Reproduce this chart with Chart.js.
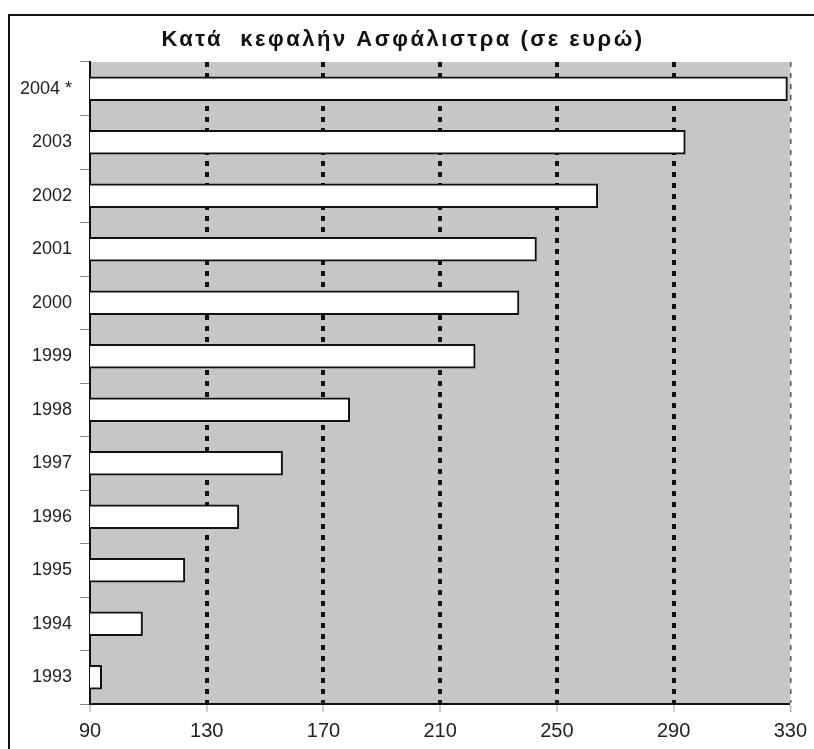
<!DOCTYPE html>
<html>
<head>
<meta charset="utf-8">
<script src="https://cdn.jsdelivr.net/npm/chart.js@4.4.0/dist/chart.umd.min.js"></script>
<style>
	html, body { margin: 0; padding: 0; background: #fff; }
	#wrap { position: relative; width: 814px; height: 749px; }
	#frame { position: absolute; left: 8px; top: 14px; right: -4px; bottom: -4px;
		border-left: 2px solid #111; border-top: 2px solid #111; pointer-events: none; }
</style>
</head>
<body>
<div id="wrap">
	<canvas id="chart-premiums" width="814" height="749"></canvas>
	<div id="frame"></div>
</div>
<script>
// Data
// ================================================================================
let chart_title = "Κατά  κεφαλήν Ασφάλιστρα (σε ευρώ)";

let year_labels = ["1993", "1994", "1995", "1996", "1997", "1998",
	"1999", "2000", "2001", "2002", "2003", "2004 *"];

let premium_values = [94, 108, 122.5, 141, 156, 179,
	222, 237, 243, 264, 294, 329];

let x_min = 90;
let x_max = 330;
let x_step = 40;

// Plugins
// ================================================================================
let plot_background = {
	id: 'plot_background',
	beforeDraw: (chart) => {
		let {ctx, chartArea: a} = chart;
		ctx.save();
		ctx.fillStyle = '#c6c6c6';
		ctx.fillRect(a.left, a.top, a.right - a.left, a.bottom - a.top);
		ctx.restore();
	}
};

// spaced-out bold title, like the scanned original
let spaced_title = {
	id: 'spaced_title',
	afterDraw: (chart) => {
		let ctx = chart.ctx;
		ctx.save();
		ctx.font = 'bold 22px "Liberation Sans", Arial, sans-serif';
		ctx.letterSpacing = '2.5px';
		ctx.fillStyle = '#111';
		ctx.textAlign = 'center';
		ctx.textBaseline = 'middle';
		ctx.fillText(chart_title, 403, 40);
		ctx.restore();
	}
};

// Chart
// ================================================================================
let premium_chart = new Chart(document.getElementById('chart-premiums'), {
	type: 'bar',
	data: {
		labels: year_labels,
		datasets: [{
			data: premium_values,
			backgroundColor: '#ffffff',
			borderColor: '#111111',
			borderWidth: 2,
			borderSkipped: false,
			barThickness: 24
		}]
	},
	options: {
		indexAxis: 'y',
		responsive: false,
		animation: false,
		layout: { padding: { top: 62, right: 23, bottom: 0, left: 0 } },
		plugins: {
			legend: { display: false },
			tooltip: { enabled: false }
		},
		scales: {
			x: {
				min: x_min,
				max: x_max,
				afterFit: (scale) => { scale.height = 45; },
				ticks: {
					stepSize: x_step,
					padding: 7,
					color: '#222',
					font: { family: '"Liberation Sans", Arial, sans-serif', size: 20 }
				},
				grid: {
					color: (c) => c.tick && c.tick.value === x_max ? '#555' : '#111',
					lineWidth: (c) => {
						if (!c.tick) return 4;
						if (c.tick.value === x_min) return 0;
						if (c.tick.value === x_max) return 1.5;
						return 4;
					},
					tickWidth: 1,
					tickColor: '#999',
					tickLength: 8
				},
				border: { color: '#111', width: 2, dash: [5, 6] }
			},
			y: {
				reverse: true,
				afterFit: (scale) => { scale.width = 90; },
				ticks: {
					padding: 8,
					color: '#222',
					font: { family: '"Liberation Sans", Arial, sans-serif', size: 18 }
				},
				grid: {
					offset: true,
					drawOnChartArea: false,
					tickColor: '#888',
					tickWidth: 1,
					tickLength: 10
				},
				border: { color: '#111', width: 2 }
			}
		}
	},
	plugins: [plot_background, spaced_title]
});
</script>
</body>
</html>
